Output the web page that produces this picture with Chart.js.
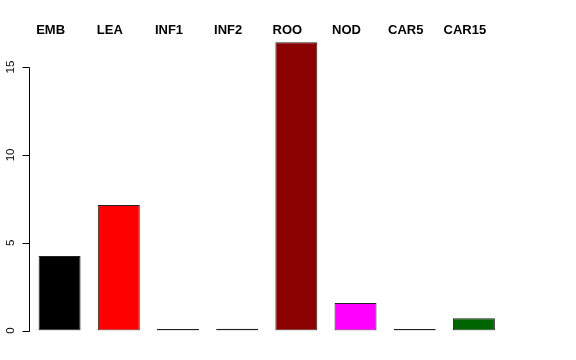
<!DOCTYPE html>
<html>
<head>
<meta charset="utf-8">
<script src="https://cdn.jsdelivr.net/npm/chart.js@4"></script>
<style>
  html, body { margin: 0; padding: 0; background: #ffffff; }
  #wrap { width: 576px; height: 360px; }
</style>
</head>
<body>
<div id="wrap"><canvas id="c" width="576" height="360"></canvas></div>
<script>
const categories = ["EMB", "LEA", "INF1", "INF2", "ROO", "NOD", "CAR5", "CAR15"];
const values = [4.25, 7.15, 0.08, 0.1, 16.41, 1.57, 0.08, 0.70];
const barColors = ["#000000", "#FF0000", "#006400", "#00008B", "#8B0000", "#FF00FF", "#000000", "#006400"];
const yTicks = [0, 5, 10, 15];
const yMax = 17;

const rAxes = {
  id: 'rAxes',
  afterDraw(chart) {
    const ctx = chart.ctx;
    const xs = chart.scales.x;
    const ys = chart.scales.y;
    const area = chart.chartArea;
    const axisX = Math.round(area.left - 1.5) + 0.5;
    ctx.save();
    ctx.strokeStyle = '#000000';
    ctx.lineWidth = 1;
    ctx.beginPath();
    ctx.moveTo(axisX, Math.round(ys.getPixelForValue(yTicks[0])) + 0.5);
    ctx.lineTo(axisX, Math.round(ys.getPixelForValue(yTicks[yTicks.length - 1])) + 0.5);
    for (const t of yTicks) {
      const py = Math.round(ys.getPixelForValue(t)) + 0.5;
      ctx.moveTo(axisX, py);
      ctx.lineTo(axisX - 7, py);
    }
    ctx.stroke();
    ctx.fillStyle = '#000000';
    ctx.font = '11.5px "Liberation Sans", Arial, sans-serif';
    ctx.textAlign = 'center';
    ctx.textBaseline = 'middle';
    for (const t of yTicks) {
      const py = ys.getPixelForValue(t);
      ctx.save();
      ctx.translate(axisX - 19, py);
      ctx.rotate(-Math.PI / 2);
      ctx.fillText(String(t), 0, 0);
      ctx.restore();
    }
    ctx.font = 'bold 13px "Liberation Sans", Arial, sans-serif';
    categories.forEach((c, i) => {
      ctx.fillText(c, xs.getPixelForValue(i) - 9, 30.5);
    });
    ctx.restore();
  }
};

new Chart(document.getElementById('c'), {
  type: 'bar',
  data: {
    labels: categories,
    datasets: [{
      data: values,
      backgroundColor: barColors,
      borderColor: '#222222',
      borderWidth: 1,
      borderSkipped: false,
      barPercentage: 0.709,
      categoryPercentage: 1.0
    }]
  },
  options: {
    responsive: false,
    animation: false,
    layout: { padding: { left: 30, right: 72.5, top: 32, bottom: 29.5 } },
    plugins: { legend: { display: false }, tooltip: { enabled: false } },
    scales: {
      x: { display: false },
      y: { display: false, min: 0, max: yMax }
    }
  },
  plugins: [rAxes]
});
</script>
</body>
</html>
